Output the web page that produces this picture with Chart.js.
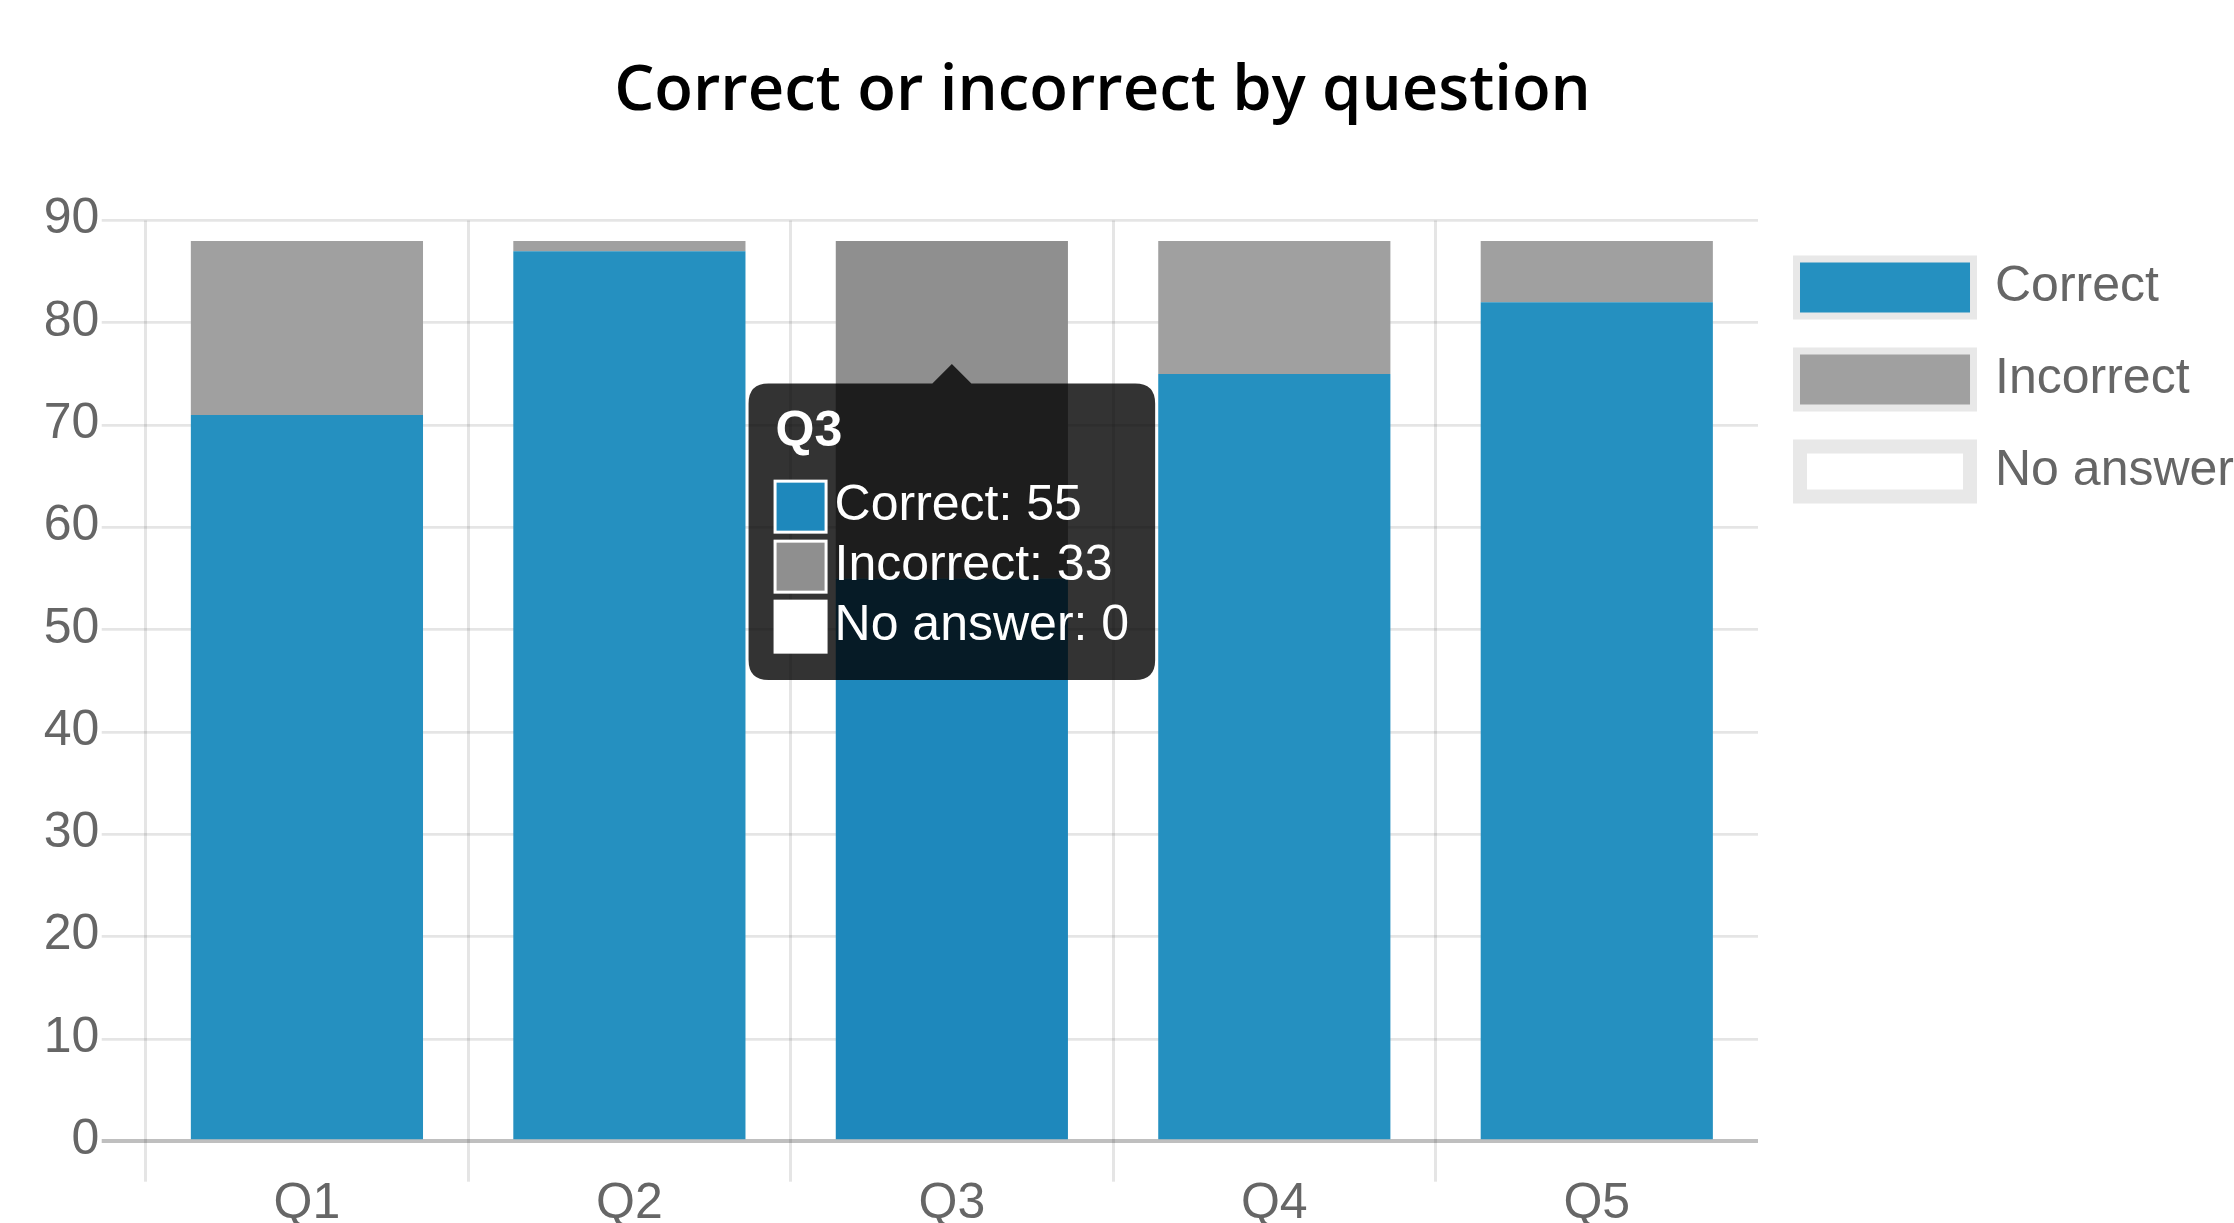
<!DOCTYPE html>
<html>
<head>
<meta charset="utf-8">
<script src="https://cdn.jsdelivr.net/npm/chart.js@4"></script>
<style>
html, body { margin: 0; padding: 0; overflow: hidden; background: #fff; width: 2234px; height: 1223px; }
#wrap { position: relative; width: 2234px; height: 1223px; overflow: hidden; }
#title { position: absolute; left: 0; top: 54px; width: 2205px; text-align: center;
  font-family: "Open Sans", "Noto Sans", sans-serif; font-weight: 600; font-size: 63.4px;
  line-height: 1; color: #000; white-space: nowrap; }
canvas { position: absolute; left: 0; top: 0; }
</style>
</head>
<body>
<div id="wrap">
  <div id="title">Correct or incorrect by question</div>
  <canvas id="c" width="2244" height="1223"></canvas>
</div>
<script>
// ---- data ----
const categories = ['Q1', 'Q2', 'Q3', 'Q4', 'Q5'];
const correctValues = [71, 87, 55, 75, 82];
const incorrectValues = [17, 1, 33, 13, 6];
const noAnswerValues = [0, 0, 0, 0, 0];
const seriesNames = ['Correct', 'Incorrect', 'No answer'];
const yTickValues = [0, 10, 20, 30, 40, 50, 60, 70, 80, 90];
const highlightedIndex = 2; // Q3 shown hovered with tooltip

// ---- styles ----
const FONT = '"Liberation Sans", Arial, sans-serif';
const colors = ['#2590C0', '#A0A0A0', 'rgba(0,0,0,0)'];
const hoverColors = ['#1E88BC', '#8F8F8F', 'rgba(0,0,0,0)'];
const tooltipBoxColors = ['#1E88BC', '#8F8F8F', 'rgba(0,0,0,0)'];

Chart.defaults.font.family = FONT;
Chart.defaults.color = '#666';

const seriesValues = [correctValues, incorrectValues, noAnswerValues];

const datasets = seriesNames.map((name, i) => ({
  label: name,
  data: seriesValues[i],
  backgroundColor: (ctx) => ctx.dataIndex === highlightedIndex ? hoverColors[i] : colors[i],
  borderWidth: 0,
  barPercentage: 0.9,
  categoryPercentage: 0.8
}));

const legendRing = {
  id: 'legendRing',
  beforeDraw(chart) {
    const lg = chart.legend;
    if (!lg || !lg.legendHitBoxes) return;
    const opts = lg.options.labels;
    const ctx = chart.ctx;
    ctx.save();
    ctx.strokeStyle = '#e8e8e8';
    ctx.lineWidth = 14;
    lg.legendHitBoxes.forEach(hb => {
      ctx.strokeRect(hb.left, hb.top, opts.boxWidth, opts.boxHeight);
    });
    ctx.restore();
  }
};

const chart = new Chart(document.getElementById('c'), {
  type: 'bar',
  data: { labels: categories, datasets },
  plugins: [legendRing],
  options: {
    responsive: false,
    devicePixelRatio: 1,
    animation: false,
    events: [],
    layout: { padding: { top: 220.5, left: 0, right: 0, bottom: 0 } },
    scales: {
      x: {
        stacked: true,
        border: { display: false },
        grid: {
          offset: true,
          color: (ctx) => ctx.type === 'tick' ? 'rgba(0,0,0,0.1)' : 'rgba(0,0,0,0)',
          lineWidth: 3,
          tickLength: 40.4
        },
        ticks: {
          font: { size: 50, lineHeight: 0.92 },
          color: '#666',
          padding: 0,
          maxRotation: 0,
          autoSkip: false
        },
        afterFit: (s) => { s.height = 81.7; }
      },
      y: {
        stacked: true,
        min: 0,
        max: 90,
        border: { display: false },
        afterBuildTicks: (s) => { s.ticks = yTickValues.map(v => ({ value: v })); },
        grid: {
          color: (ctx) => (ctx.tick && ctx.tick.value === 0) ? 'rgba(0,0,0,0.25)' : 'rgba(0,0,0,0.1)',
          lineWidth: (ctx) => (ctx.tick && ctx.tick.value === 0) ? 4 : 2.7,
          tickLength: 44
        },
        ticks: {
          stepSize: 10,
          font: { size: 50 },
          color: '#666',
          padding: 2.4,
          labelOffset: -1
        },
        afterFit: (s) => { s.width = 145.7; }
      }
    },
    plugins: {
      title: { display: false },
      legend: {
        position: 'right',
        align: 'start',
        labels: {
          boxWidth: 170,
          boxHeight: 50,
          padding: 42,
          color: '#666',
          font: { size: 50 },
          generateLabels: () => seriesNames.map((name, i) => ({
            text: name,
            fillStyle: colors[i],
            strokeStyle: 'rgba(0,0,0,0)',
            lineWidth: 0,
            hidden: false,
            datasetIndex: i,
            fontColor: '#666'
          }))
        }
      },
      tooltip: {
        enabled: true,
        animation: false,
        mode: 'index',
        position: 'average',
        xAlign: 'center',
        yAlign: 'top',
        backgroundColor: 'rgba(0,0,0,0.8)',
        titleColor: '#fff',
        bodyColor: '#fff',
        titleFont: { size: 50, weight: 'bold', lineHeight: 1 },
        bodyFont: { size: 50, lineHeight: 1.17 },
        titleMarginBottom: 20,
        bodySpacing: 1.5,
        padding: { top: 24, bottom: 24, left: 27, right: 26 },
        caretSize: 19.5,
        caretPadding: 10.4,
        cornerRadius: 20,
        displayColors: true,
        boxWidth: 50,
        boxHeight: 50,
        boxPadding: 7,
        multiKeyBackground: '#fff',
        callbacks: {
          labelColor: (ctx) => ({
            borderColor: '#fff',
            backgroundColor: tooltipBoxColors[ctx.datasetIndex],
            borderWidth: 4,
            borderRadius: 0
          })
        }
      }
    }
  }
});

chart.tooltip.setActiveElements(
  seriesNames.map((_, i) => ({ datasetIndex: i, index: highlightedIndex })),
  { x: 0, y: 0 }
);
chart.update();
</script>
</body>
</html>
